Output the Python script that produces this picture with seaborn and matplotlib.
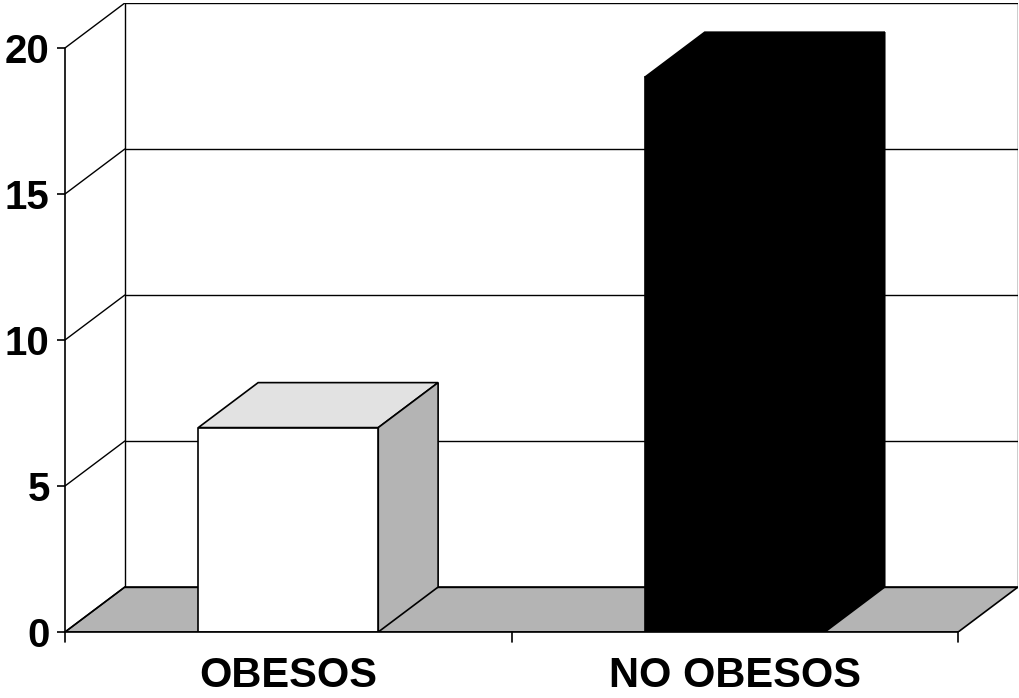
import numpy as np
import pandas as pd
import matplotlib
matplotlib.use("Agg")
import matplotlib.pyplot as plt
from matplotlib.patches import Polygon
import seaborn as sns

# --- DATA ---
categories = ["OBESOS", "NO OBESOS"]
values = [7, 19]
front_colors = ["white", "black"]
top_colors = ["#e2e2e2", "black"]
side_colors = ["#b4b4b4", "black"]
y_ticks = [0, 5, 10, 15, 20]

# --- 3D look: depth offset in data units ---
DX = 0.134
DY = 1.54
FLOOR_COLOR = "#b4b4b4"
Y_MAX = 20

sns.set_style("white")
plt.rcParams["font.family"] = ["Liberation Sans", "DejaVu Sans"]

fig = plt.figure(figsize=(10.19, 6.98), dpi=100)
ax = fig.add_axes([65 / 1019, 66 / 698, 953 / 1019, 629 / 698])
for s in ax.spines.values():
    s.set_visible(False)

df = pd.DataFrame({"cat": categories, "val": values})

# front bars
sns.barplot(data=df, x="cat", y="val", hue="cat", palette=front_colors,
            width=0.403, edgecolor="black", linewidth=1.2, legend=False, ax=ax, zorder=3)
bars = list(ax.patches)

# seaborn resets the categorical limits, so set them after plotting
ax.set_xlim(-0.5, 1.5 + DX)
ax.set_ylim(0, Y_MAX + DY)

# floor
floor = Polygon([(-0.5, 0), (1.5, 0), (1.5 + DX, DY), (-0.5 + DX, DY)],
                closed=True, facecolor=FLOOR_COLOR, edgecolor="black", lw=1.2, zorder=1)
ax.add_patch(floor)

# back wall + side wall grid
lc = dict(color="black", lw=1.0, zorder=1.5)
ax.plot([-0.5 + DX, -0.5 + DX], [DY, Y_MAX + DY], **lc)
ax.plot([1.5 + DX, 1.5 + DX], [DY, Y_MAX + DY], **lc)
for v in y_ticks:
    ax.plot([-0.5 + DX, 1.5 + DX], [v + DY, v + DY], **lc)
    ax.plot([-0.5, -0.5 + DX], [v, v + DY], **lc)

for i, p in enumerate(bars):
    x0 = p.get_x()
    x1 = x0 + p.get_width()
    h = p.get_height()
    top = Polygon([(x0, h), (x1, h), (x1 + DX, h + DY), (x0 + DX, h + DY)], closed=True,
                  facecolor=top_colors[i], edgecolor="black", lw=1.2, zorder=2.5)
    side = Polygon([(x1, 0), (x1 + DX, DY), (x1 + DX, h + DY), (x1, h)], closed=True,
                   facecolor=side_colors[i], edgecolor="black", lw=1.2, zorder=2.5)
    ax.add_patch(top)
    ax.add_patch(side)

# front axis lines
ax.plot([-0.5, -0.5], [0, Y_MAX], color="black", lw=1.2, zorder=4, clip_on=False)
ax.plot([-0.5, 1.5], [0, 0], color="black", lw=1.2, zorder=4, clip_on=False)

ax.set_yticks(y_ticks)
ax.set_yticklabels([str(t) for t in y_ticks], fontsize=29, fontweight="bold", color="black")
ax.set_xticks([0, 1])
ax.set_xticklabels(categories, fontsize=30, fontweight="bold", color="black")
ax.tick_params(axis="y", left=True, length=6, width=1.2, pad=5, direction="out", color="black")
ax.tick_params(axis="x", bottom=False, pad=14)
for xb in [-0.5, 0.5, 1.5]:
    ax.plot([xb, xb], [0, -0.35], color="black", lw=1.2, clip_on=False, zorder=4)
ax.set_xlabel("")
ax.set_ylabel("")

fig.savefig("out.png", dpi=100)
